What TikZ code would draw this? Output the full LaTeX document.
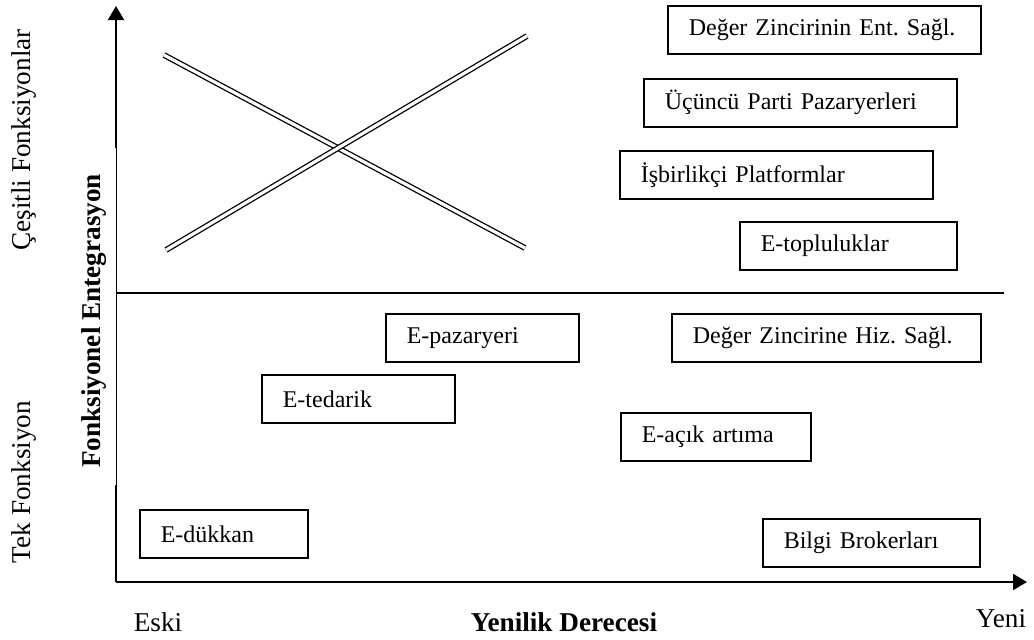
\documentclass[tikz,border=0pt]{standalone}
\usepackage{fontspec}
\setmainfont{Liberation Serif}
\frenchspacing
\usetikzlibrary{arrows.meta,positioning}

\begin{document}
\begin{tikzpicture}[x=0.5pt, y=-0.5pt,
  font=\fontsize{12}{14}\selectfont,
  box/.style={draw, line width=0.8pt, anchor=north west, inner xsep=10.5pt, inner ysep=2pt, minimum height=24pt, align=left},
  axis/.style={line width=1pt},
  arr/.style={-{Triangle[length=7pt, width=8pt]}, line width=1pt},
  xline/.style={double, line width=0.65pt, double distance=1.6pt},
  lab/.style={font=\fontsize{13.6}{16}\selectfont, inner sep=0pt}]
\useasboundingbox (0,0) rectangle (1034,639);
% axes
\coordinate (o) at (116,582);
\coordinate (ylo) at (116,485);
\coordinate (yhi) at (116,148);
\coordinate (ytip) at (116,6);
\coordinate (xtip) at (1027,582);
\draw[axis] (o) -- (ylo);
\draw[line width=0.5pt] (ylo) -- (yhi);
\draw[arr] (yhi) -- (ytip);
\draw[arr] (o) -- (xtip);
% middle divider
\coordinate (mida) at (116,293);
\coordinate (midb) at (1004,293);
\draw[line width=0.8pt] (mida) -- (midb);
% the crossing double lines
\coordinate (da) at (164,55);
\coordinate (db) at (525,248);
\coordinate (ua) at (166,250);
\coordinate (ub) at (527,36);
\draw[xline] (da) -- (db);
\draw[xline] (ua) -- (ub);
% upper half boxes
\node[box, text width=135.5pt] (dzent) at (667,5) {Değer Zincirinin Ent. Sağl.};
\node[box, text width=135.5pt] (ucpazar) at (643,78) {Üçüncü Parti Pazaryerleri};
\node[box, text width=135.5pt] (isbir) at (619,150) {İşbirlikçi Platformlar};
\node[box, text width=87.5pt] (etop) at (739,221) {E-topluluklar};
% lower half boxes
\node[box, text width=75.5pt] (epazar) at (385,313) {E-pazaryeri};
\node[box, text width=133.5pt] (dzhiz) at (671,313) {Değer Zincirine Hiz. Sağl.};
\node[box, text width=75.5pt] (eted) at (261,374) {E-tedarik};
\node[box, text width=74pt] (eacik) at (620,412) {E-açık artıma};
\node[box, text width=63pt] (eduk) at (139,509) {E-dükkan};
\node[box, text width=87.5pt] (bilgi) at (762,518) {Bilgi Brokerları};
% axis labels
\node[lab, rotate=90] (cesitli) at (24,140) {Çeşitli Fonksiyonlar};
\node[lab, rotate=90] (tek) at (24,482) {Tek Fonksiyon};
\node[lab, rotate=90, font=\fontsize{13.6}{16}\selectfont\bfseries] (fonk) at (94,321) {Fonksiyonel Entegrasyon};
\node[lab] (eski) at (158,622) {Eski};
\node[lab, font=\fontsize{13.6}{16}\selectfont\bfseries] (yenilik) at (564,622) {Yenilik Derecesi};
\node[lab] (yeni) at (1001,619) {Yeni};
\end{tikzpicture}
\end{document}
